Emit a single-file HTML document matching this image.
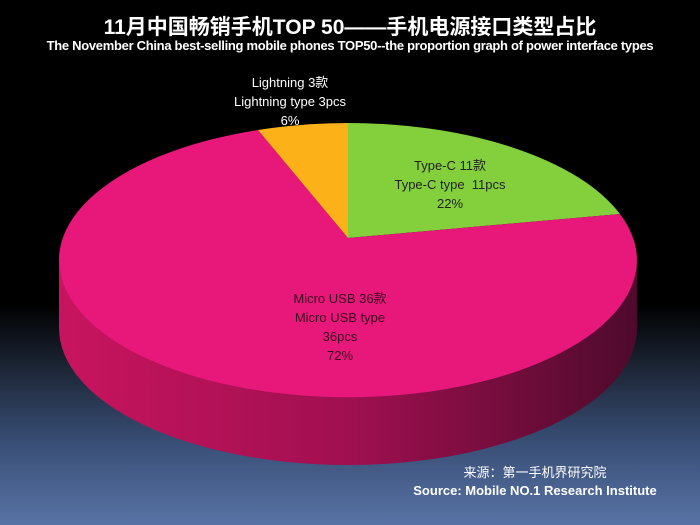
<!DOCTYPE html>
<html><head><meta charset="utf-8"><style>
html,body{margin:0;padding:0}
body{width:700px;height:525px;overflow:hidden;background:linear-gradient(180deg,#000 0%,#000 58%,#1c2535 70%,#3a5078 85%,#5873a5 100%);font-family:"Liberation Sans","Noto Sans CJK SC",sans-serif;position:relative}
.t{position:absolute;left:0;width:700px;text-align:center;color:#fff;font-weight:bold}
.l{position:absolute;text-align:center;font-size:13px;line-height:19px}
</style></head><body>
<div class="t" style="top:11px;font-size:21px">11月中国畅销手机TOP 50——手机电源接口类型占比</div>
<div class="t" style="top:38px;font-size:13px;letter-spacing:-0.3px">The November China best-selling mobile phones TOP50--the proportion graph of power interface types</div>
<svg width="700" height="525" style="position:absolute;left:0;top:0">
<defs><linearGradient id="sd" x1="0" x2="1" y1="0" y2="0">
<stop offset="0" stop-color="#c8145f"/><stop offset="0.5" stop-color="#a01050"/><stop offset="1" stop-color="#4e0a2c"/></linearGradient></defs>
<path d="M59,260 L59,328 A289,137 0 0 0 637,328 L637,260 A289,137 0 0 1 59,260 Z" fill="url(#sd)"/>
<path d="M348,238 L348,123 A289,137 0 0 1 620,214 Z" fill="#84d03c"/>
<path d="M348,238 L620,214 A289,137 0 1 1 258,130 Z" fill="#e8177a"/>
<path d="M348,238 L258,130 A289,137 0 0 1 348,123 Z" fill="#fbb117"/>
</svg>
<div class="l" style="left:220px;top:73px;width:140px;color:#fff">Lightning 3款<br>Lightning type 3pcs<br>6%</div>
<div class="l" style="left:380px;top:156px;width:140px;color:#222">Type-C 11款<br>Type-C type&nbsp; 11pcs<br>22%</div>
<div class="l" style="left:270px;top:289px;width:140px;color:#3a0a20">Micro USB 36款<br>Micro USB type<br>36pcs<br>72%</div>
<div style="position:absolute;left:400px;top:464px;width:270px;text-align:center;color:#fff;font-size:13px;line-height:18px">来源：第一手机界研究院<br><b>Source: Mobile NO.1 Research Institute</b></div>
</body></html>
